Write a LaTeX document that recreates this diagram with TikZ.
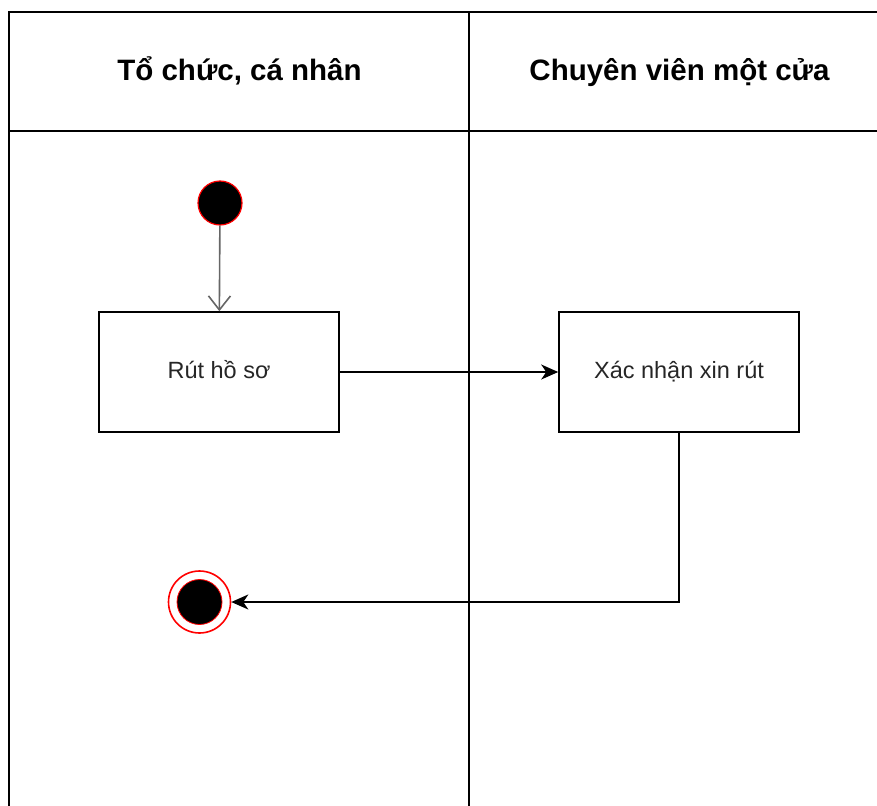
\documentclass[tikz,border=0pt]{standalone}
\usepackage{fontspec}
\setmainfont{Liberation Sans}
\usetikzlibrary{arrows.meta}
\begin{document}
\begin{tikzpicture}[x=1pt,y=-1pt,
  lane/.style={draw=black,line width=1.6pt},
  hdr/.style={font=\fontsize{29.5}{34}\selectfont\bfseries,text=black,text height=21pt,text depth=6pt,inner sep=0pt},
  act/.style={draw=black,line width=1.6pt,minimum width=240pt,minimum height=120pt,inner sep=0pt,
    text height=17pt,text depth=5pt,
    font=\fontsize{23.5}{28}\selectfont,text=black!85},
  startst/.style={circle,fill=black,draw=red,line width=1.2pt,minimum size=44pt,inner sep=0pt},
  endring/.style={circle,draw=red,line width=1.6pt,fill=white,minimum size=62pt,inner sep=0pt},
  enddot/.style={circle,fill=black,draw=red,line width=0.8pt,minimum size=45pt,inner sep=0pt},
  flow/.style={draw=black,line width=1.6pt,-{Stealth[length=17pt,width=15pt,inset=5pt]}},
  initflow/.style={draw=black!60,line width=1.6pt,-{Straight Barb[length=14pt,width=22pt]}}
]
\useasboundingbox (0,0) rectangle (877,805);
\begin{scope}
\clip (0,0) rectangle (877,805);
\draw[lane] (9,820) -- (9,12) -- (890,12);
\draw[lane] (9,131) -- (890,131);
\draw[lane] (469,12) -- (469,820);
\end{scope}
\node[hdr] (h1) at (239.5,73) {Tổ chức, cá nhân};
\node[hdr] (h2) at (679.5,73) {Chuyên viên một cửa};
\node[startst] (start) at (220,203) {};
\node[act] (a1) at (219,372) {Rút hồ sơ};
\node[act] (a2) at (679,372) {Xác nhận xin rút};
\node[endring] (endo) at (199.5,602) {};
\node[enddot] (endi) at (199.5,602) {};
\draw[initflow] (start) -- (a1);
\draw[flow] (a1) -- (a2);
\draw[flow] (a2.south) |- (endo.east);
\end{tikzpicture}
\end{document}
